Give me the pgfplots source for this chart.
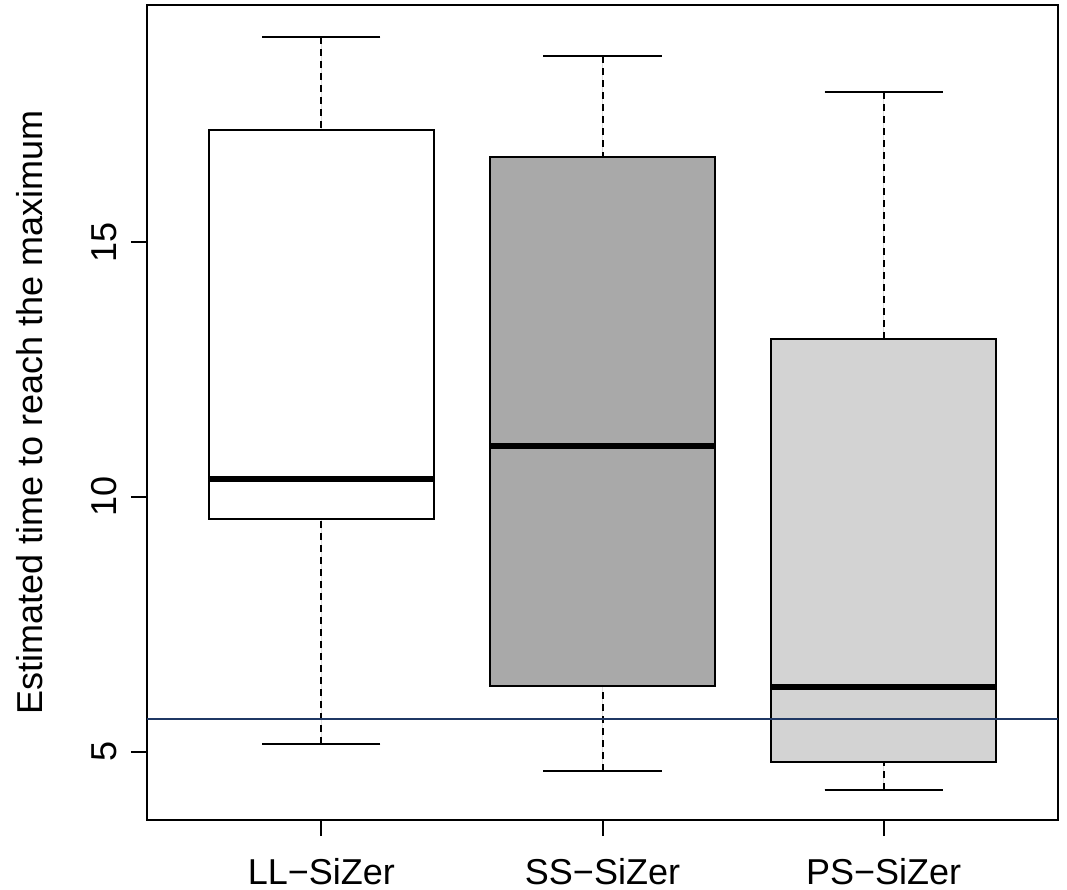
\documentclass[border=0pt]{standalone}
\usepackage{fontspec}
\setmainfont{Liberation Sans}
\usepackage{pgfplots}
\pgfplotsset{compat=1.18}
\usepgfplotslibrary{statistics}
\definecolor{ablue}{RGB}{31,56,100}
\definecolor{ssfill}{RGB}{169,169,169}
\definecolor{psfill}{RGB}{211,211,211}
\pgfplotsset{
  rbox/.style={
    solid, draw=black, line width=1pt,
    boxplot/box extend=0.8,
    boxplot/whisker extend=0.42,
    boxplot/every median/.style={line width=3pt},
    boxplot/draw/lower whisker/.code={
      \draw[black, line width=1pt, dash pattern=on 3.5pt off 2.5pt]
        (boxplot box cs:\pgfplotsboxplotvalue{lower whisker},0.5) --
        (boxplot box cs:\pgfplotsboxplotvalue{lower quartile},0.5);
      \draw[black, line width=1pt, solid]
        (boxplot whisker cs:\pgfplotsboxplotvalue{lower whisker},0) --
        (boxplot whisker cs:\pgfplotsboxplotvalue{lower whisker},1);
    },
    boxplot/draw/upper whisker/.code={
      \draw[black, line width=1pt, dash pattern=on 3.5pt off 2.5pt]
        (boxplot box cs:\pgfplotsboxplotvalue{upper whisker},0.5) --
        (boxplot box cs:\pgfplotsboxplotvalue{upper quartile},0.5);
      \draw[black, line width=1pt, solid]
        (boxplot whisker cs:\pgfplotsboxplotvalue{upper whisker},0) --
        (boxplot whisker cs:\pgfplotsboxplotvalue{upper whisker},1);
    },
  }
}
\begin{document}
\begin{tikzpicture}[font=\fontsize{18}{21.6}\selectfont]
\begin{axis}[
  scale only axis, width=455.5pt, height=407.5pt,
  xmin=0.38, xmax=3.62, ymin=3.66, ymax=19.65,
  axis line style={line width=1pt},
  tick align=outside, major tick length=8pt,
  tick style={black, line width=1pt},
  xtick={1,2,3}, xticklabels={LL−SiZer,SS−SiZer,PS−SiZer},
  ytick={5,10,15},
  xtick pos=left, ytick pos=left,
  /pgf/number format/assume math mode=true,
  yticklabel style={xshift=-7pt, rotate=90, anchor=base},
  xticklabel style={anchor=base, yshift=-24pt},
  ylabel={Estimated time to reach the maximum},
  ylabel style={at={(axis description cs:-0.11416,0.5)}, anchor=base},
  boxplot/draw direction=y,
]
\addplot[rbox, fill=white, boxplot prepared={draw position=1,
  lower whisker=5.15, lower quartile=9.56, median=10.35,
  upper quartile=17.19, upper whisker=19.02}] coordinates {};
\addplot[rbox, fill=ssfill, boxplot prepared={draw position=2,
  lower whisker=4.62, lower quartile=6.28, median=10.99,
  upper quartile=16.66, upper whisker=18.64}] coordinates {};
\addplot[rbox, fill=psfill, boxplot prepared={draw position=3,
  lower whisker=4.25, lower quartile=4.79, median=6.26,
  upper quartile=13.09, upper whisker=17.94}] coordinates {};
\addplot[ablue, line width=1pt] coordinates {(0.38,5.65) (3.62,5.65)};
\end{axis}
\pgfresetboundingbox
\path[use as bounding box] ([shift={(-73.5pt,-35pt)}]current axis.south west) rectangle ([shift={(4.5pt,2.5pt)}]current axis.north east);
\end{tikzpicture}
\end{document}
